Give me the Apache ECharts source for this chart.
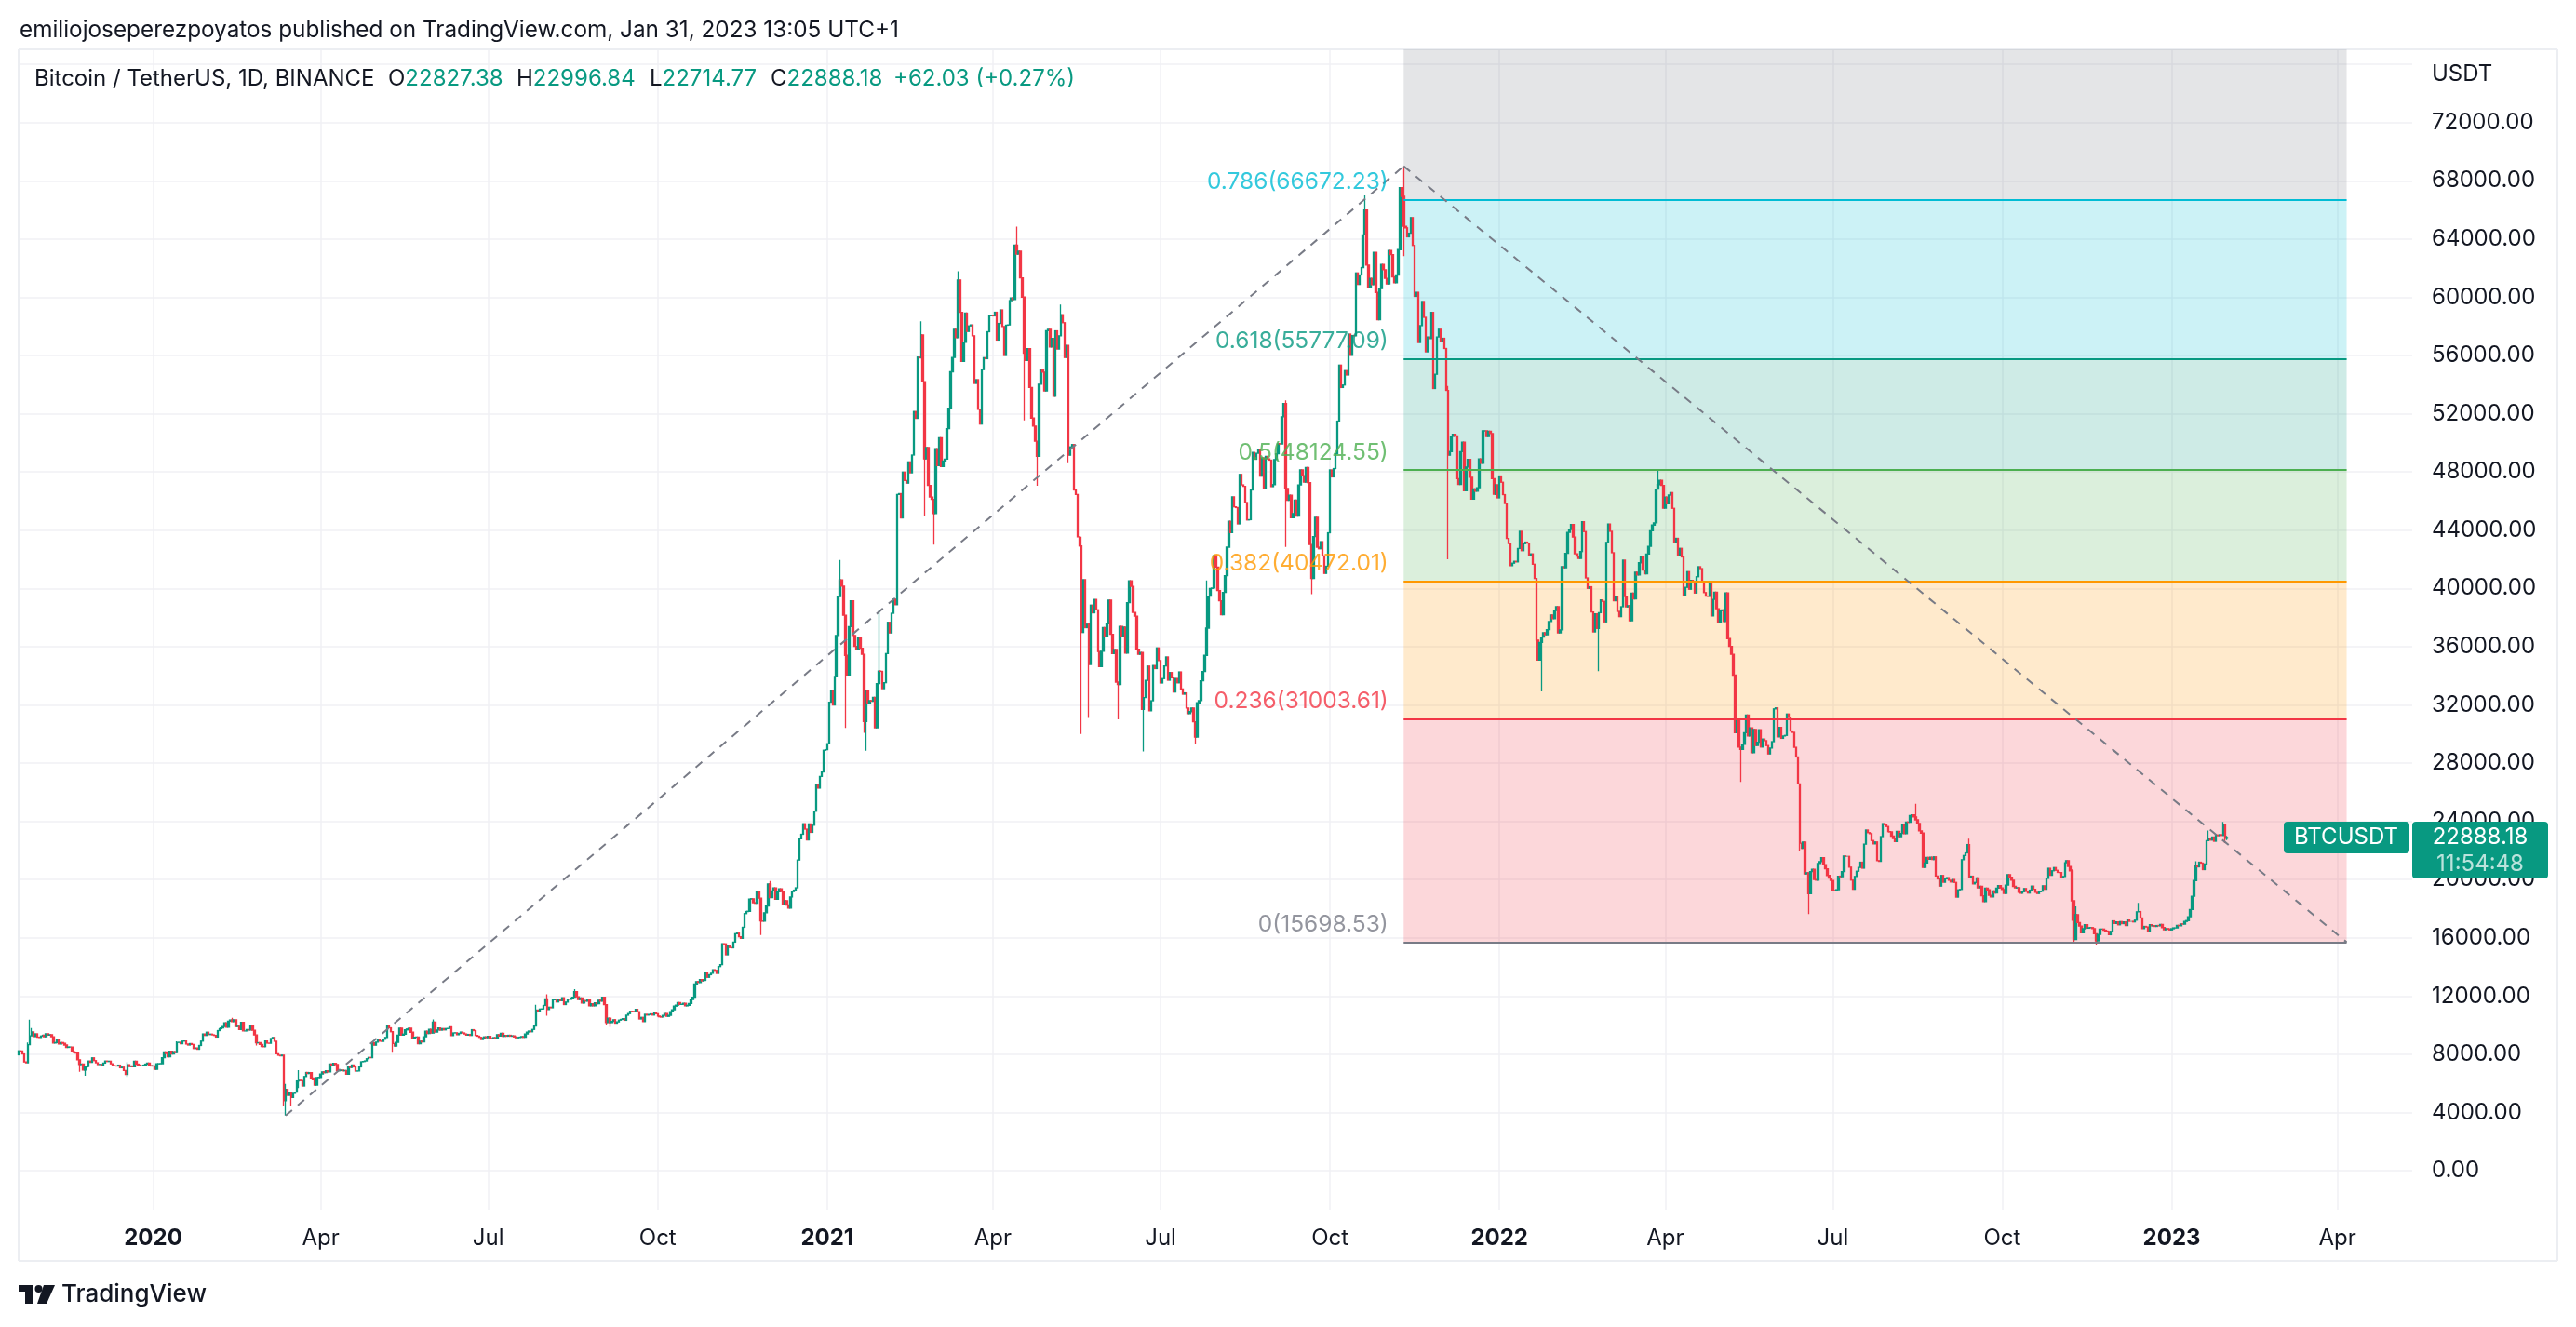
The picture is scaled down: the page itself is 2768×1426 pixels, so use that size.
<!DOCTYPE html>
<html><head><meta charset="utf-8">
<script src="https://cdn.jsdelivr.net/npm/echarts@6/dist/echarts.min.js"></script>
<style>html,body{margin:0;padding:0;background:#fff}#c{width:2768px;height:1426px}</style>
</head><body><div id="c"></div>
<script>
const FONT = 'Inter, Roboto, "Noto Sans", sans-serif';
const TEXT = '#131722';
const UP = '#089981', DOWN = '#F23645';

// ---- DATA (daily closes, BTCUSDT) ----
const firstDate = '2019-10-20';
const firstOpen = 7960;
const close2019 = [8230,8220,8020,7470,7410,8660,9260,9530,9210,9400,9170,9150,
9250,9300,9200,9400,9310,9340,9200,8770,8800,9030,8710,8800,8750,8630,8470,8500,8500,8170,8120,8080,7620,7290,7320,6910,7130,7160,7530,7440,7750,7560,
7410,7290,7300,7200,7390,7530,7500,7520,7340,7220,7200,7190,7250,7070,7110,6880,6610,7280,7150,7190,7140,7510,7320,7250,7200,7200,7250,7320,7390,7220,7195];
const close2020 = [7200,6960,7340,7350,7350,7760,8150,8050,7820,8200,8020,8180,8110,8810,8820,8720,8900,8910,8700,8630,8730,8670,8390,8430,8340,8600,8900,9390,9290,9510,9350,
9380,9330,9290,9180,9620,9750,9800,9900,10160,9850,10270,10350,10240,10360,9900,9920,9700,10180,9600,9600,9690,9660,9960,9650,9320,8780,8790,8670,8530,
8520,8910,8760,8750,9080,9150,8890,8030,7930,7890,7940,4800,5578,5172,5361,5028,5312,5393,6162,6209,6186,5816,6469,6744,6677,6737,6360,6236,5881,6394,6410,
6640,6790,6730,6860,6780,7330,7200,7370,7290,6860,6880,6910,6860,6880,6630,7120,7090,7260,7130,6840,6850,7130,7480,7500,7540,7690,7780,7760,8790,8620,
8830,8970,8900,8880,9030,9150,9990,9810,9540,8730,8560,8810,9310,9790,9310,9380,9670,9730,9780,9510,9060,9170,9180,8720,8900,8840,9200,9580,9420,9700,9450,
10200,9520,9660,9800,9650,9760,9670,9760,9770,9880,9280,9460,9470,9340,9430,9520,9460,9390,9310,9360,9290,9680,9620,9290,9240,9160,9010,9120,9190,9140,
9230,9090,9060,9140,9070,9340,9250,9430,9230,9290,9240,9300,9240,9260,9190,9130,9150,9170,9210,9160,9390,9520,9590,9540,9700,9930,11030,10910,11100,11110,11350,
11800,11070,11230,11190,11740,11760,11590,11750,11680,11880,11410,11580,11780,11770,11860,11910,12290,11950,11750,11870,11520,11680,11650,11750,11330,11460,11330,11530,11470,11710,11650,
11920,11400,10170,10470,10170,10250,10370,10130,10220,10340,10390,10440,10330,10680,10790,10950,10940,10930,11080,10920,10420,10530,10240,10740,10690,10730,10770,10690,10840,10780,
10620,10570,10550,10670,10790,10600,10670,10920,11050,11300,11370,11540,11420,11430,11500,11320,11360,11480,11750,11910,12820,12990,12930,13130,13040,13070,13640,13280,13460,13560,13800,
13760,13550,14020,14150,15590,15580,14830,15480,15330,15310,15700,16280,16320,16070,15960,16720,17660,17800,17820,18660,18680,18410,18370,19160,18720,17150,17140,17720,18180,19700,
18760,19220,19420,18650,19150,19360,19170,18320,18550,18250,18040,18800,19170,19270,19430,21340,22800,23110,23830,23460,22720,23820,23240,23730,24690,26490,26280,27080,27390,28880,28920];
const close2021 = [29330,32180,33000,31990,33950,36770,39430,40580,40150,38150,35400,34050,37370,39150,36770,36010,35800,36630,35890,35470,30850,33000,32100,32290,32250,32510,30430,33460,34320,34300,33110,
33520,35520,37670,36940,38290,39260,38880,46450,46510,44840,47990,47410,47230,48690,47940,49160,52150,51680,55890,55840,57410,54200,48890,49680,47070,46280,46110,45140,
49590,48440,50350,48370,48750,48880,50970,52380,54880,55860,57800,57220,61190,58970,55600,56900,58910,57650,58030,58100,57350,54080,54340,52300,51290,55030,55850,55780,57630,58730,58740,
58720,58970,57060,58200,59130,57990,56000,58080,58100,59770,59960,59840,63580,62960,63160,61330,60010,56150,55660,56470,53800,51700,51150,50110,49070,54030,55030,54860,53560,57700,
57800,56580,57170,53200,57690,56440,57350,58800,58250,55860,56700,49150,49720,49880,46760,46450,43540,42910,36970,40600,37300,37540,34770,38850,38320,39240,38530,35660,34620,35680,37300,
36690,37570,39190,36850,35520,35800,33560,33400,37390,36690,37340,35550,39020,40520,40140,38350,38090,35820,35480,35600,31680,32500,33680,34660,31590,32280,34700,34490,35910,35040,
33500,33800,34670,35290,33690,34220,33860,32880,33810,33510,34260,33090,32730,32820,31780,31390,31530,31780,30840,29790,32140,32290,33650,34290,35400,37270,39460,40000,40020,42240,41460,
39850,39150,38190,39720,40870,42830,44610,43830,46290,45600,45550,44430,47830,47110,47010,45900,44700,44720,46760,49340,48870,49280,49510,47710,48970,46850,49070,48900,48810,46990,47130,
48850,49250,49940,49920,51790,52700,46860,46050,46400,44850,45140,46060,44960,47110,48140,47750,47300,48310,47260,43010,40690,43560,44880,42830,42720,43210,42230,41030,41520,43820,
48140,47660,48230,49250,51490,55340,53800,53970,54960,54660,57470,56010,57370,57350,61670,60880,61530,62040,64280,66000,62210,60690,61290,60860,63080,60330,58450,60590,62250,61890,61300,
60910,63220,62930,61400,61000,61530,63270,67530,66930,64880,64770,64150,64400,65470,63560,60060,60340,56890,58050,59710,58620,56250,57270,57160,58960,53730,54710,57270,57800,56950,
57180,56480,53600,49150,49400,50440,50590,50470,47540,47140,49390,50050,46700,48340,48860,47630,46130,46830,46680,46910,48900,48590,50820,50820,50430,50800,50640,47540,46460,47120,46220];
const close2022 = [47720,47290,46440,45830,43430,43080,41560,41730,41860,41820,42740,43920,42590,43070,43180,43110,42250,42370,41660,40680,36450,35070,36280,36650,36950,36810,37160,37720,38170,37920,38470,
38740,36950,37150,41500,41410,42410,43840,44040,44390,43520,42380,42220,42050,42530,44580,43900,40720,40000,40110,38380,37010,38250,37250,38330,39210,39110,37700,43160,
44420,43920,42450,39150,39400,38420,38060,38740,41940,39440,38730,38810,37780,39670,39280,41110,40920,41760,42200,41260,41000,42360,42890,43960,44350,44500,46820,47130,47430,47070,45510,
46280,45810,46410,46580,45500,43170,43440,42250,42750,42160,39530,40070,41150,39940,40550,40380,39680,40800,41490,41360,40480,39710,39470,39450,40430,38110,39240,39740,38600,37630,
38470,38520,37730,39690,36550,36010,35470,34040,30080,31010,29100,28940,29280,30080,31300,29860,30420,28720,30310,29200,29430,30290,29100,29650,29540,29200,28630,29030,29470,31720,31790,
29800,30450,29700,29860,29900,31370,31130,30200,30110,29080,28420,26570,22490,22140,22580,20380,20470,19020,20550,20710,20000,19960,21100,21230,21500,21030,20740,20280,20100,19940,
19250,19240,19300,20230,20190,20550,21620,21590,21590,20850,19960,19330,20210,20570,20830,21190,20780,22430,23400,23220,23150,22680,22450,22580,21300,21250,22950,23840,23770,23640,23290,
23270,22980,22820,22610,23310,22950,23170,23810,23150,23950,23930,24400,24440,24300,24100,23850,23340,23190,20830,21140,21520,21400,21530,21370,21560,20240,20040,19550,20280,19810,20050,
20130,19950,19830,20000,19800,18790,19290,19320,21360,21650,21830,22400,20170,20230,19700,19800,20110,19420,19540,18880,18480,19400,19290,18920,18800,19220,19080,19410,19590,19420,
19310,19050,19620,20340,20160,19950,19530,19420,19440,19130,19060,19160,19380,19180,19070,19270,19550,19330,19120,19040,19160,19200,19570,19330,20080,20770,20290,20600,20820,20630,20490,
20480,20150,20210,21150,21300,20900,20590,18540,15880,17590,17040,16800,16350,16620,16900,16660,16690,16700,16630,16280,15780,16230,16600,16600,16520,16460,16430,16210,16440,17160,
16980,17090,16890,17110,16970,17090,16840,17220,17130,17130,17090,17210,17780,17800,17360,16630,16780,16740,16440,16900,16820,16830,16780,16840,16830,16920,16700,16550,16630,16600,16540];
const close2023 = [16620,16680,16680,16850,16830,16950,16940,17120,17180,17440,17940,18850,19930,20950,20870,21190,21130,20680,21070,22670,22780,22710,22920,22630,23060,23010,23080,23030,23740,22827.38,22888.18];
// notable wicks: [date, high, low]
const wicks = [
['2019-10-25',8800,7400],['2019-10-26',10370,8970],['2019-10-27',9800,null],['2019-11-22',null,6790],['2019-11-25',null,6515],['2019-12-18',7440,6435],
['2020-01-14',8880,null],['2020-02-13',10500,null],['2020-02-26',null,8600],['2020-03-08',null,8000],['2020-03-12',7970,4410],['2020-03-13',5955,3782],
['2020-03-16',null,4444],['2020-03-20',6900,5670],['2020-05-10',null,8100],['2020-06-01',10380,null],['2020-07-27',11400,null],['2020-08-02',12120,10650],
['2020-08-17',12470,null],['2020-09-03',null,10000],['2020-09-05',null,9875],['2020-11-26',null,16190],['2020-12-01',19900,null],
['2021-01-08',41950,null],['2021-01-11',null,30420],['2021-01-21',null,30070],['2021-01-22',null,28850],['2021-01-29',38530,null],['2021-02-21',58350,null],
['2021-02-23',null,45000],['2021-02-28',null,43000],['2021-03-13',61780,null],['2021-04-14',64855,null],['2021-04-18',null,51540],['2021-04-25',null,47045],
['2021-05-08',59500,null],['2021-05-12',null,48600],['2021-05-19',43550,30000],['2021-05-23',null,31100],['2021-06-08',null,31000],['2021-06-22',null,28800],
['2021-07-20',null,29280],['2021-07-26',40550,null],['2021-09-07',52920,42840],['2021-09-21',null,39600],['2021-10-20',67000,null],['2021-11-10',69000,62820],
['2021-12-04',53900,42000],['2022-01-24',null,32920],['2022-02-24',null,34320],['2022-03-28',48190,null],['2022-05-12',null,26700],['2022-06-13',null,21930],
['2022-06-18',null,17620],['2022-08-15',25210,null],['2022-09-13',22800,null],['2022-11-08',20700,17170],['2022-11-09',null,15590],['2022-11-10',18150,null],
['2022-11-21',null,15480],['2022-12-14',18390,null],['2023-01-14',21260,null],['2023-01-21',23370,null],['2023-01-29',23960,null],['2023-01-30',23800,22500],
['2023-01-31',22996.84,22714.77]];
// axis ticks
const quarterTicks = ['2020-01-01','2020-04-01','2020-07-01','2020-10-01','2021-01-01','2021-04-01','2021-07-01','2021-10-01','2022-01-01','2022-04-01','2022-07-01','2022-10-01','2023-01-01','2023-04-01'];
const priceLabels = [0,4000,8000,12000,16000,20000,24000,28000,32000,36000,40000,44000,48000,52000,56000,60000,64000,68000,72000];
const priceGrid = priceLabels.concat([76000]);
// fib retracement
const fibRatios = ['0','0.236','0.382','0.5','0.618','0.786','1'];
const fibPrices = [15698.53,31003.61,40472.01,48124.55,55777.09,66672.23,80550.57];
const fibStart = '2021-11-10', fibEnd = '2023-04-06';
const trendA = [['2020-03-13',3782],['2021-11-10',69000]];
const trendB = [['2021-11-10',69000],['2023-04-06',15698.53]];
const lastPrice = 22888.18;

// ---- LAYOUT / STYLE ----
const fibColors = ['#787B86','#F23645','#FF9800','#4CAF50','#089981','#00BCD4','#787B86'];
const fibFills = ['rgba(242,54,69,0.2)','rgba(255,152,0,0.2)','rgba(76,175,80,0.2)','rgba(8,153,129,0.2)','rgba(0,188,212,0.2)','rgba(120,123,134,0.2)'];
const DAY = 864e5;
const ts = s => Date.parse(s + 'T00:00:00Z');
const J2020 = ts('2020-01-01');
const X_MIN = J2020 - 73.02 * DAY, X_MAX = J2020 + 1226.6 * DAY;
const Y_MIN = -2685, Y_MAX = 77031;
const GRID = {left: 20, top: 53, width: 2572, height: 1247};

const closes = [].concat(close2019, close2020, close2021, close2022, close2023);
const wickMap = {}; wicks.forEach(w => wickMap[w[0]] = w);
const T0 = ts(firstDate);
const candles = closes.map((c, i) => {
  const t = T0 + i * DAY;
  const o = i === 0 ? firstOpen : closes[i - 1];
  const w = wickMap[new Date(t).toISOString().slice(0, 10)];
  let h = Math.max(o, c), l = Math.min(o, c);
  if (w) { if (w[1] != null) h = Math.max(h, w[1]); if (w[2] != null) l = Math.min(l, w[2]); }
  return [t, o, c, l, h];
});

const months = ['Jan','Feb','Mar','Apr','May','Jun','Jul','Aug','Sep','Oct','Nov','Dec'];
const fs = ts(fibStart), fe = ts(fibEnd);
const markAreaData = fibFills.map((col, i) => [
  {xAxis: fs, yAxis: fibPrices[i], itemStyle: {color: col}},
  {xAxis: fe, yAxis: i === 5 ? Y_MAX : fibPrices[i + 1]}]);
const markLineData = fibPrices.slice(0, 6).map((p, i) => [
  {coord: [fs, p], lineStyle: {color: fibColors[i], width: 2, type: 'solid'}},
  {coord: [fe, p]}]);
const fibLabelData = fibPrices.slice(0, 6).map((p, i) => ({
  name: fibRatios[i] + '(' + p.toFixed(2) + ')', value: [fs, p],
  label: {color: fibColors[i]}}));

const chart = echarts.init(document.getElementById('c'));
const option = {
  animation: false,
  backgroundColor: '#ffffff',
  grid: GRID,
  xAxis: {
    type: 'value', min: X_MIN, max: X_MAX, scale: true,
    axisLine: {show: false},
    axisTick: {show: false, customValues: quarterTicks.map(ts)},
    axisLabel: {
      customValues: quarterTicks.map(ts), margin: 19, color: TEXT, fontSize: 24, fontFamily: FONT,
      showMinLabel: true, showMaxLabel: true, hideOverlap: false,
      formatter: v => { const d = new Date(v); const m = d.getUTCMonth();
        return m === 0 ? '{y|' + d.getUTCFullYear() + '}' : '{m|' + months[m] + '}'; },
      rich: {y: {fontWeight: 'bold', fontSize: 24, color: TEXT, fontFamily: FONT},
             m: {fontSize: 24, color: TEXT, fontFamily: FONT}}
    },
    splitLine: {show: true, lineStyle: {color: '#f0f1f4', width: 1.5}}
  },
  yAxis: {
    type: 'value', position: 'right', min: Y_MIN, max: Y_MAX, scale: true,
    axisLine: {show: false},
    axisTick: {show: false, customValues: priceGrid},
    axisLabel: {customValues: priceLabels, margin: 21, color: TEXT, fontSize: 24, fontFamily: FONT,
      formatter: v => v.toFixed(2)},
    splitLine: {show: true, lineStyle: {color: '#f0f1f4', width: 1.5}}
  },
  series: [
    {
      type: 'line', data: [], z: 1, silent: true,
      markArea: {silent: true, data: markAreaData, label: {show: false}}
    },
    {
      type: 'candlestick', data: candles, encode: {x: 0, y: [1, 2, 3, 4]},
      large: false, barWidth: 2, z: 3, silent: true,
      itemStyle: {color: UP, color0: DOWN, borderColor: UP, borderColor0: DOWN, borderWidth: 1.3}
    },
    {
      type: 'line', z: 4, silent: true, symbol: 'none',
      data: [],
      markLine: {silent: true, symbol: ['none', 'none'], label: {show: false}, data: markLineData}
    },
    {
      type: 'line', z: 5, silent: true, symbol: 'none',
      data: trendA.map(p => [ts(p[0]), p[1]]),
      lineStyle: {color: '#787B86', width: 2, type: [9, 8]}
    },
    {
      type: 'line', z: 5, silent: true, symbol: 'none',
      data: trendB.map(p => [ts(p[0]), p[1]]),
      lineStyle: {color: '#787B86', width: 2, type: [9, 8]}
    },
    {
      type: 'scatter', z: 6, silent: true, symbolSize: 1, itemStyle: {color: 'rgba(0,0,0,0)'},
      data: fibLabelData,
      label: {show: true, position: 'left', distance: 16, offset: [0, -19], fontSize: 24.5, fontFamily: FONT,
        formatter: p => p.name}
    }
  ]
};
chart.setOption(option);

// layout graphics
const py = chart.convertToPixel({yAxisIndex: 0}, lastPrice);
const F = sz => sz + 'px ' + FONT;
const g = [
  {type: 'line', shape: {x1: 20, y1: 53, x2: 2748, y2: 53}, style: {stroke: '#eceef2', lineWidth: 2}},
  {type: 'line', shape: {x1: 20, y1: 53, x2: 20, y2: 1355}, style: {stroke: '#eceef2', lineWidth: 2}},
  {type: 'line', shape: {x1: 2748, y1: 53, x2: 2748, y2: 1355}, style: {stroke: '#eceef2', lineWidth: 2}},
  {type: 'line', shape: {x1: 20, y1: 1355, x2: 2748, y2: 1355}, style: {stroke: '#eceef2', lineWidth: 2}},
  {type: 'text', x: 21, y: 33, style: {text: 'emiliojoseperezpoyatos published on TradingView.com, Jan 31, 2023 13:05 UTC+1', font: F(24.3), fill: TEXT, textVerticalAlign: 'middle'}},
  {type: 'text', x: 37, y: 85, z: 100, style: {text: 'Bitcoin / TetherUS, 1D, BINANCE', font: F(24), fill: TEXT, textVerticalAlign: 'middle'}},
  {type: 'text', x: 2613, y: 80, style: {text: 'USDT', font: F(24), fill: TEXT, textVerticalAlign: 'middle'}}
];
[['O','22827.38',417],['H','22996.84',555],['L','22714.77',698],['C','22888.18',828]].forEach(s => {
  g.push({type: 'text', x: s[2], y: 85, z: 100, style: {text: '{k|' + s[0] + '}{v|' + s[1] + '}',
    font: F(24), textVerticalAlign: 'middle',
    rich: {k: {fill: TEXT, font: F(24)}, v: {fill: UP, font: F(24)}}}});
});
g.push({type: 'text', x: 960, y: 85, z: 100, style: {text: '+62.03 (+0.27%)', font: F(24), fill: UP, textVerticalAlign: 'middle'}});
// last price boxes
g.push({type: 'rect', z: 100, shape: {x: 2454, y: py - 17, width: 135, height: 34, r: 4}, style: {fill: UP}});
g.push({type: 'text', z: 101, x: 2521, y: py, style: {text: 'BTCUSDT', font: F(24), fill: '#ffffff', textAlign: 'center', textVerticalAlign: 'middle'}});
g.push({type: 'rect', z: 100, shape: {x: 2592, y: py - 17, width: 146, height: 61, r: 4}, style: {fill: UP}});
g.push({type: 'text', z: 101, x: 2665, y: py, style: {text: lastPrice.toFixed(2), font: F(24), fill: '#ffffff', textAlign: 'center', textVerticalAlign: 'middle'}});
g.push({type: 'text', z: 101, x: 2665, y: py + 29, style: {text: '11:54:48', font: F(24), fill: 'rgba(255,255,255,0.72)', textAlign: 'center', textVerticalAlign: 'middle'}});
// footer logo
g.push({type: 'rect', shape: {x: 20, y: 1381, width: 15, height: 7}, style: {fill: TEXT}});
g.push({type: 'rect', shape: {x: 27, y: 1381, width: 8, height: 20}, style: {fill: TEXT}});
g.push({type: 'circle', shape: {cx: 41.5, cy: 1385, r: 4}, style: {fill: TEXT}});
g.push({type: 'polygon', shape: {points: [[47, 1381], [59, 1381], [50, 1401], [40, 1401]]}, style: {fill: TEXT}});
g.push({type: 'text', x: 66, y: 1391, style: {text: 'TradingView', font: '500 26px ' + FONT, fill: TEXT, textVerticalAlign: 'middle'}});
chart.setOption({graphic: g});
</script></body></html>
